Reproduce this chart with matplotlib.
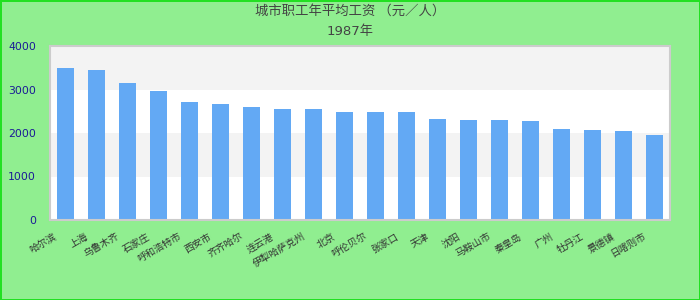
import matplotlib
matplotlib.use("Agg")
import matplotlib.pyplot as plt
import matplotlib.transforms as mtransforms

plt.rcParams['font.family'] = ['Noto Sans CJK SC', 'DejaVu Sans']

title_main = "城市职工年平均工资 （元／人）"
title_year = "1987年"

cities = ["哈尔滨", "上海", "乌鲁木齐", "石家庄", "呼和浩特市", "西安市", "齐齐哈尔",
          "连云港", "伊犁哈萨克州", "北京", "呼伦贝尔", "张家口", "天津", "沈阳",
          "马鞍山市", "秦皇岛", "广州", "牡丹江", "景德镇", "日喀则市"]
wages = [3500, 3450, 3160, 2970, 2710, 2670, 2600, 2550, 2550, 2480,
         2480, 2480, 2320, 2300, 2300, 2280, 2090, 2070, 2050, 1960]
y_ticks = [0, 1000, 2000, 3000, 4000]

fig = plt.figure(figsize=(7, 3), dpi=100)
fig.patch.set_facecolor('#90ee90')
fig.patch.set_edgecolor('#22e022')
fig.patch.set_linewidth(2)

ax = fig.add_axes([50 / 700, 80 / 300, 620 / 700, 174 / 300])
ax.set_facecolor('white')

# alternating horizontal bands
for lo, hi in zip(y_ticks[:-1], y_ticks[1:]):
    if (lo // 1000) % 2 == 1:
        ax.axhspan(lo, hi, color='#f3f3f3', zorder=0, lw=0)

x = list(range(len(cities)))
ax.bar(x, wages, width=0.55, color='#63a9f4', zorder=2)

ax.set_xlim(-0.5, len(cities) - 0.5)
ax.set_ylim(0, 4000)
ax.set_yticks(y_ticks)
ax.set_yticklabels([str(v) for v in y_ticks], family='DejaVu Sans',
                   color='#1a1a96', fontsize=7.8)
ax.tick_params(axis='y', length=0, pad=10)

ax.set_xticks(x)
ax.set_xticklabels(cities, rotation=30, ha='right', fontsize=7, color='#333333')
ax.tick_params(axis='x', length=0, pad=8)
shift = mtransforms.ScaledTranslation(-7 / 100, 0, fig.dpi_scale_trans)
for lbl in ax.get_xticklabels():
    lbl.set_transform(lbl.get_transform() + shift)

for side in ('left', 'right', 'top', 'bottom'):
    ax.spines[side].set_color('#cccccc')
    ax.spines[side].set_linewidth(1.5)

fig.text(0.5, 1 - 11 / 300, title_main, ha='center', va='center',
         fontsize=9.6, color='#444444')
fig.text(0.5, 1 - 31 / 300, title_year, ha='center', va='center',
         fontsize=9.5, color='#444444', family=['DejaVu Sans', 'Noto Sans CJK SC'])

fig.savefig('out.png', dpi=100, facecolor=fig.get_facecolor(),
            edgecolor=fig.get_edgecolor())
